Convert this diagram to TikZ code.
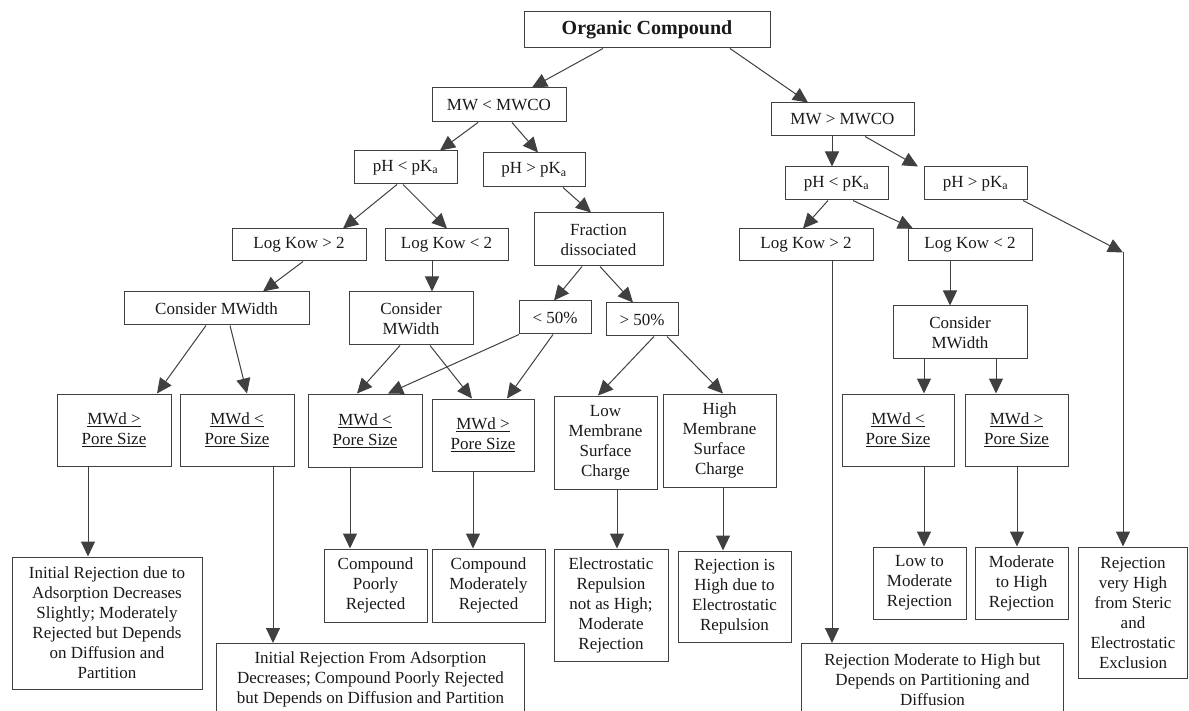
\documentclass[tikz,border=0pt]{standalone}
\usepackage{fontspec}
\setmainfont{Liberation Serif}
\usetikzlibrary{arrows.meta}
\tikzset{
  box/.style={draw=black!75, line width=1pt, align=center, inner sep=0pt,
    font=\fontsize{17}{20}\selectfont, text=black!90},
  openbox/.style={draw=none, align=center, inner sep=0pt,
    font=\fontsize{17}{20}\selectfont, text=black!90},
  conn/.style={draw=black!75, line width=1pt, -{Triangle[length=15pt,width=14pt]}},
  side/.style={draw=black!75, line width=1pt},
}
\newcommand{\ulbox}[2]{\underline{#1}\\\underline{#2}}
\begin{document}
\begin{tikzpicture}[x=1pt,y=-1pt]
\useasboundingbox (0,0) rectangle (1189,711);
\clip (0,0) rectangle (1189,711);
% ---- nodes ----
\node[box, minimum width=246, minimum height=36, font=\fontsize{20}{24}\selectfont\bfseries] (org) at (647,30) {Organic Compound};
\node[box, minimum width=134, minimum height=34] (mwl) at (499,105) {MW < MWCO};
\node[box, minimum width=143, minimum height=33] (mwg) at (842.5,119.5) {MW > MWCO};
\node[box, minimum width=103, minimum height=33] (phl1) at (405.5,167.5) {pH < pK\textsubscript{a}};
\node[box, minimum width=102, minimum height=34] (phg1) at (534,170) {pH > pK\textsubscript{a}};
\node[box, minimum width=134, minimum height=32] (lkg1) at (299,245) {Log Kow > 2};
\node[box, minimum width=123, minimum height=32] (lkl1) at (446.5,245) {Log Kow < 2};
\node[box, minimum width=129, minimum height=53] (frac) at (598.5,239.5) {Fraction\\dissociated};
\node[box, minimum width=185, minimum height=33] (cmw1) at (216.5,308.5) {Consider MWidth};
\node[box, minimum width=124, minimum height=53] (cmw2) at (411,318.5) {Consider\\MWidth};
\node[box, minimum width=72, minimum height=33] (lt50) at (555,317.5) {< 50\%};
\node[box, minimum width=72, minimum height=33] (gt50) at (642,319.5) {> 50\%};
\node[box, minimum width=103, minimum height=33] (phl2) at (836.5,183.5) {pH < pK\textsubscript{a}};
\node[box, minimum width=103, minimum height=33] (phg2) at (975.5,183.5) {pH > pK\textsubscript{a}};
\node[box, minimum width=134, minimum height=32] (lkg2) at (806,245) {Log Kow > 2};
\node[box, minimum width=124, minimum height=32] (lkl2) at (970,245) {Log Kow < 2};
\node[box, minimum width=134, minimum height=53] (cmw3) at (960,332.5) {Consider\\MWidth};
\node[box, minimum width=114, minimum height=72] (mwdg1) at (114,430) {\ulbox{MWd >}{Pore Size}};
\node[box, minimum width=114, minimum height=72] (mwdl1) at (237,430) {\ulbox{MWd <}{Pore Size}};
\node[box, minimum width=114, minimum height=73] (mwdl2) at (365,430.5) {\ulbox{MWd <}{Pore Size}};
\node[box, minimum width=102, minimum height=72] (mwdg2) at (483,435) {\ulbox{MWd >}{Pore Size}};
\node[box, minimum width=103, minimum height=93] (lowm) at (605.5,442.5) {Low\\Membrane\\Surface\\Charge};
\node[box, minimum width=113, minimum height=93] (highm) at (719.5,440.5) {High\\Membrane\\Surface\\Charge};
\node[box, minimum width=112, minimum height=72] (mwdl3) at (898,430) {\ulbox{MWd <}{Pore Size}};
\node[box, minimum width=103, minimum height=72] (mwdg3) at (1016.5,430) {\ulbox{MWd >}{Pore Size}};
\node[box, minimum width=190, minimum height=132] (res1) at (107,623) {Initial Rejection due to\\Adsorption Decreases\\Slightly; Moderately\\Rejected but Depends\\on Diffusion and\\Partition};
\node[openbox, minimum width=307, minimum height=73, anchor=north] (res2) at (370.5,643) {Initial Rejection From Adsorption\\Decreases; Compound Poorly Rejected\\but Depends on Diffusion and Partition};
\node[box, minimum width=103, minimum height=73] (res3) at (375.5,585.5) {Compound\\Poorly\\Rejected};
\node[box, minimum width=113, minimum height=73] (res4) at (488.5,585.5) {Compound\\Moderately\\Rejected};
\node[box, minimum width=114, minimum height=112] (res5) at (611,605) {Electrostatic\\Repulsion\\not as High;\\Moderate\\Rejection};
\node[box, minimum width=113, minimum height=91] (res6) at (734.5,596.5) {Rejection is\\High due to\\Electrostatic\\Repulsion};
\node[openbox, minimum width=261, minimum height=73, anchor=north] (res7) at (932.5,643) {Rejection Moderate to High but\\Depends on Partitioning and\\Diffusion};
\node[box, minimum width=93, minimum height=72] (res8) at (919.5,583) {Low to\\Moderate\\Rejection};
\node[box, minimum width=93, minimum height=72] (res9) at (1021.5,583) {Moderate\\to High\\Rejection};
\node[box, minimum width=109, minimum height=131] (res10) at (1133,612.5) {Rejection\\very High\\from Steric\\and\\Electrostatic\\Exclusion};
% open-bottom boxes
\draw[side] (res2.south west) -- (res2.north west) -- (res2.north east) -- (res2.south east);
\draw[side] (res7.south west) -- (res7.north west) -- (res7.north east) -- (res7.south east);
% ---- connectors ----
\draw[conn] ([xshift=-44]org.south) -- ([xshift=33]mwl.north);
\draw[conn] ([xshift=83]org.south) -- ([xshift=-34.5]mwg.north);
\draw[conn] ([xshift=-21]mwl.south) -- ([xshift=34.5]phl1.north);
\draw[conn] ([xshift=13]mwl.south) -- ([xshift=4]phg1.north);
\draw[conn] ([xshift=-8.5]phl1.south) -- ([xshift=44]lkg1.north);
\draw[conn] ([xshift=-2.5]phl1.south) -- ([xshift=0.5]lkl1.north);
\draw[conn] ([xshift=29]phg1.south) -- ([xshift=-7.5]frac.north);
\draw[conn] ([xshift=4]lkg1.south) -- ([xshift=46.5]cmw1.north);
\draw[conn] ([xshift=-14.5]lkl1.south) -- ([xshift=21]cmw2.north);
\draw[conn] ([xshift=-16.5]frac.south) -- ([xshift=-1]lt50.north);
\draw[conn] ([xshift=1.5]frac.south) -- ([xshift=-9]gt50.north);
\draw[conn] ([xshift=-10.5]cmw1.south) -- ([xshift=43]mwdg1.north);
\draw[conn] ([xshift=13.5]cmw1.south) -- ([xshift=10]mwdl1.north);
\draw[conn] ([xshift=-11]cmw2.south) -- ([xshift=-8]mwdl2.north);
\draw[conn] ([xshift=19]cmw2.south) -- ([xshift=-11]mwdg2.north);
\draw[conn] ([xshift=-36]lt50.south) -- ([xshift=23]mwdl2.north);
\draw[conn] ([xshift=-2]lt50.south) -- ([xshift=24]mwdg2.north);
\draw[conn] ([xshift=12]gt50.south) -- ([xshift=-7.5]lowm.north);
\draw[conn] ([xshift=25]gt50.south) -- ([xshift=3.5]highm.north);
\draw[conn] ([xshift=-10.5]mwg.south) -- ([xshift=-4.5]phl2.north);
\draw[conn] ([xshift=22.5]mwg.south) -- ([xshift=-57.5]phg2.north);
\draw[conn] ([xshift=-8.5]phl2.south) -- ([xshift=-3]lkg2.north);
\draw[conn] ([xshift=16.5]phl2.south) -- ([xshift=-57]lkl2.north);
\draw[conn] ([xshift=26]lkg2.south) -- ([xshift=-100.5]res7.north);
\draw[conn] ([xshift=-20]lkl2.south) -- ([xshift=-10]cmw3.north);
\coordinate (turn) at ([xshift=-10,yshift=294]res10.north);
\draw[conn] ([xshift=47.5]phg2.south) -- (turn);
\draw[conn] (turn) -- ([xshift=-10]res10.north);
\draw[conn] ([xshift=-36]cmw3.south) -- ([xshift=26]mwdl3.north);
\draw[conn] ([xshift=36]cmw3.south) -- ([xshift=-20.5]mwdg3.north);
\draw[conn] ([xshift=-26]mwdg1.south) -- ([xshift=-19]res1.north);
\draw[conn] ([xshift=36]mwdl1.south) -- ([xshift=-97.5]res2.north);
\draw[conn] ([xshift=-15]mwdl2.south) -- ([xshift=-25.5]res3.north);
\draw[conn] ([xshift=-10]mwdg2.south) -- ([xshift=-15.5]res4.north);
\draw[conn] ([xshift=11.5]lowm.south) -- ([xshift=6]res5.north);
\draw[conn] ([xshift=3.5]highm.south) -- ([xshift=-11.5]res6.north);
\draw[conn] ([xshift=26]mwdl3.south) -- ([xshift=4.5]res8.north);
\draw[conn] ([xshift=0.5]mwdg3.south) -- ([xshift=-4.5]res9.north);
\end{tikzpicture}
\end{document}
